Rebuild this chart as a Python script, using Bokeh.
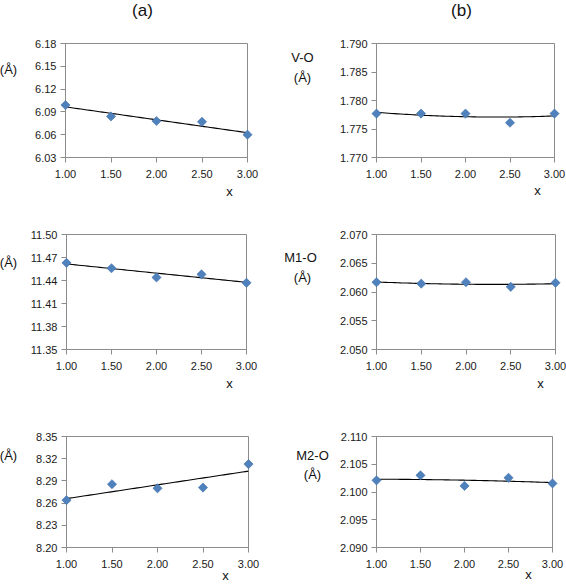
import numpy as np
from bokeh.plotting import figure
from bokeh.models import Range1d, FixedTicker, PrintfTickFormatter
from bokeh.core.properties import value
from bokeh.layouts import row, column
from bokeh.embed import file_html
from bokeh.resources import INLINE

# ---------------- data ----------------
x_vals = [1.0, 1.5, 2.0, 2.5, 3.0]
x_ticks = [1.0, 1.5, 2.0, 2.5, 3.0]

a_top = [6.099, 6.084, 6.078, 6.077, 6.060]
a_mid = [11.463, 11.456, 11.444, 11.448, 11.437]
a_bot = [8.264, 8.2855, 8.280, 8.281, 8.3127]
b_top = [1.7777, 1.7777, 1.7777, 1.7761, 1.7777]
b_mid = [2.0617, 2.06145, 2.0617, 2.0609, 2.0616]
b_bot = [2.1021, 2.1030, 2.1011, 2.10256, 2.10155]

a_top_ticks = [6.03, 6.06, 6.09, 6.12, 6.15, 6.18]
a_mid_ticks = [11.35, 11.38, 11.41, 11.44, 11.47, 11.50]
a_bot_ticks = [8.20, 8.23, 8.26, 8.29, 8.32, 8.35]
b_top_ticks = [1.770, 1.775, 1.780, 1.785, 1.790]
b_mid_ticks = [2.050, 2.055, 2.060, 2.065, 2.070]
b_bot_ticks = [2.090, 2.095, 2.100, 2.105, 2.110]

col_titles = ["(a)", "(b)"]
a_ylabel = "(Å)"
b_ylabels = ["V-O", "M1-O", "M2-O"]
x_label = "x"

FONT = "Liberation Sans"
AXIS_GREY = "#8c8c8c"


def make_panel(yvals, yticks, ydec, deg, origin, width, height, frame,
               texts):
    """origin: page position of figure; frame: (left, top, right, bottom) page px.
    texts: list of (text, page_x, page_y, font_size)."""
    ox, oy = origin
    fl, ft, fr, fb = frame
    mbl, mbt = fl - ox, ft - oy
    mbr, mbb = ox + width - fr, oy + height - fb
    x0, x1 = x_ticks[0], x_ticks[-1]
    y0, y1 = yticks[0], yticks[-1]
    p = figure(width=width, height=height, output_backend="svg",
               toolbar_location=None,
               x_range=Range1d(x0, x1), y_range=Range1d(y0, y1),
               min_border_left=mbl, min_border_right=mbr,
               min_border_top=mbt, min_border_bottom=mbb)
    p.background_fill_color = "white"
    p.border_fill_color = "white"
    p.outline_line_color = AXIS_GREY
    p.outline_line_width = 1
    p.grid.visible = False
    for ax in (p.xaxis[0], p.yaxis[0]):
        ax.axis_line_color = AXIS_GREY
        ax.major_tick_line_color = AXIS_GREY
        ax.minor_tick_line_color = None
        ax.major_tick_in = 0
        ax.major_tick_out = 5
        ax.major_label_text_font = FONT
        ax.major_label_text_font_size = "11px"
        ax.major_label_text_color = "#1a1a1a"
    p.xaxis.ticker = FixedTicker(ticks=x_ticks)
    p.xaxis.formatter = PrintfTickFormatter(format="%.2f")
    p.xaxis.major_label_standoff = 7
    p.yaxis.ticker = FixedTicker(ticks=yticks)
    p.yaxis.formatter = PrintfTickFormatter(format="%." + str(ydec) + "f")
    p.yaxis.major_label_standoff = 4

    coef = np.polyfit(x_vals, yvals, deg)
    xs = np.linspace(x_vals[0], x_vals[-1], 60)
    p.line(xs, np.polyval(coef, xs), line_color="black", line_width=1.1)
    p.scatter(x_vals, yvals, marker="square", angle=np.pi / 4, size=6.5,
              fill_color="#4F81BD", line_color="#3F6FA8", line_width=0.6,
              level="overlay")

    # free texts (titles, axis names) placed via pixel -> data conversion
    fw, fh = fr - fl, fb - ft
    for t, px, py, fs in texts:
        dx = x0 + (px - fl) / fw * (x1 - x0)
        dy = y1 - (py - ft) / fh * (y1 - y0)
        p.text(x=[dx], y=[dy], text=[t], text_font=value(FONT),
               text_font_size=value(fs), text_align="center",
               text_baseline="middle", text_color="#111111", level="overlay")
    return p


L_W, R_W = 278, 288
ROW_Y = [0, 205, 400]
ROW_H = [205, 195, 185]

fa1 = make_panel(a_top, a_top_ticks, 2, 1, (0, ROW_Y[0]), L_W, ROW_H[0],
                 (65, 43, 247, 157),
                 [(col_titles[0], 142, 10, "17px"), (a_ylabel, 8, 69, "13px"),
                  (x_label, 229, 191, "13px")])
fb1 = make_panel(b_top, b_top_ticks, 3, 2, (L_W, ROW_Y[0]), R_W, ROW_H[0],
                 (376, 43, 554, 158),
                 [(col_titles[1], 461, 10, "17px"), (b_ylabels[0], 302, 57, "13px"),
                  (a_ylabel, 302, 77, "13px"), (x_label, 537, 191, "13px")])
fa2 = make_panel(a_mid, a_mid_ticks, 2, 1, (0, ROW_Y[1]), L_W, ROW_H[1],
                 (66, 233, 246, 349),
                 [(a_ylabel, 8, 261, "13px"), (x_label, 229, 383, "13px")])
fb2 = make_panel(b_mid, b_mid_ticks, 3, 2, (L_W, ROW_Y[1]), R_W, ROW_H[1],
                 (376, 234, 555, 349),
                 [(b_ylabels[1], 300, 257, "13px"), (a_ylabel, 302, 277, "13px"),
                  (x_label, 540, 383, "13px")])
fa3 = make_panel(a_bot, a_bot_ticks, 2, 1, (0, ROW_Y[2]), L_W, ROW_H[2],
                 (66, 433, 248, 547),
                 [(a_ylabel, 8, 453, "13px"), (x_label, 225, 576, "13px")])
fb3 = make_panel(b_bot, b_bot_ticks, 3, 2, (L_W, ROW_Y[2]), R_W, ROW_H[2],
                 (376, 436, 552, 549),
                 [(b_ylabels[2], 312, 455, "13px"), (a_ylabel, 312, 475, "13px"),
                  (x_label, 528, 576, "13px")])

layout = column(row(fa1, fb1), row(fa2, fb2), row(fa3, fb3))

open("out.html", "w").write(file_html(layout, INLINE))
